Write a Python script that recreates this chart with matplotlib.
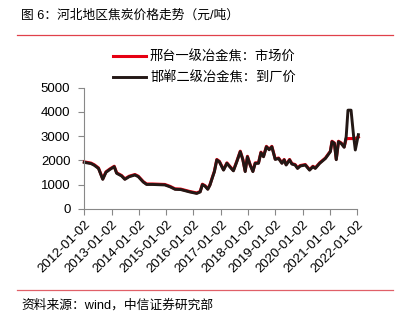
import matplotlib
matplotlib.use("Agg")
import matplotlib.pyplot as plt
import pandas as pd

FONTS = ['Liberation Sans', 'Noto Sans CJK SC', 'DejaVu Sans']
plt.rcParams['font.family'] = FONTS

title = "图 6：河北地区焦炭价格走势（元/吨）"
source = "资料来源：wind，中信证券研究部"
names = ["邢台一级冶金焦：市场价", "邯郸二级冶金焦：到厂价"]

dates = ["2012-01-02", "2012-04-01", "2012-05-15", "2012-07-10", "2012-09-05",
         "2012-10-18", "2012-12-10", "2013-02-06", "2013-03-10", "2013-05-15",
         "2013-06-28", "2013-08-25", "2013-11-10", "2013-12-25", "2014-03-01",
         "2014-04-15", "2014-07-01", "2014-12-15", "2015-02-25", "2015-05-01",
         "2015-07-15", "2015-11-15", "2016-02-15", "2016-04-01", "2016-05-01",
         "2016-06-05", "2016-07-12", "2016-08-10", "2016-09-15", "2016-10-08",
         "2016-11-10", "2016-12-15", "2017-02-08", "2017-03-25", "2017-05-08",
         "2017-06-20", "2017-08-05", "2017-09-20", "2017-10-25", "2017-11-25",
         "2017-12-25", "2018-01-30", "2018-03-08", "2018-04-08", "2018-05-22",
         "2018-06-24", "2018-07-28", "2018-09-05", "2018-10-12", "2018-11-17",
         "2019-01-01", "2019-02-15", "2019-04-01", "2019-05-01", "2019-05-27",
         "2019-07-12", "2019-08-12", "2019-09-25", "2019-10-27", "2019-12-02",
         "2020-02-08", "2020-04-05", "2020-05-20", "2020-06-20", "2020-08-18",
         "2020-11-03", "2021-01-08", "2021-01-30", "2021-03-03", "2021-03-28",
         "2021-04-27", "2021-06-02", "2021-07-12", "2021-08-08", "2021-09-01",
         "2021-10-12", "2021-11-16", "2021-12-08", "2022-01-18"]

# 邢台一级冶金焦 市场价
xingtai = [1940, 1890, 1820, 1690, 1240, 1530, 1650, 1760, 1490, 1380,
           1240, 1350, 1420, 1350, 1130, 1030, 1030, 1010, 930, 830,
           820, 720, 660, 720, 1020, 960, 830, 1000, 1340, 1550,
           2040, 1960, 1620, 1900, 1740, 1590, 1970, 2380, 2040, 1560,
           2170, 1830, 1560, 1900, 1900, 2340, 2170, 2580, 2460, 2580,
           2060, 2100, 1900, 2040, 1830, 2040, 1870, 1830, 1690, 1790,
           1830, 1620, 1760, 1690, 1900, 2100, 2380, 2790, 2720, 2050,
           2790, 2720, 2560, 2900, 2900, 2900, 2900, 2900, 2960]

# 邯郸二级冶金焦 到厂价
handan = [1920, 1870, 1800, 1670, 1220, 1510, 1630, 1740, 1470, 1360,
          1220, 1330, 1400, 1330, 1110, 1010, 1010, 990, 910, 810,
          800, 700, 640, 700, 1000, 940, 810, 980, 1320, 1530,
          2020, 1940, 1600, 1880, 1720, 1570, 1950, 2360, 2020, 1540,
          2150, 1810, 1540, 1880, 1880, 2320, 2150, 2560, 2440, 2560,
          2040, 2080, 1880, 2020, 1810, 2020, 1850, 1810, 1670, 1770,
          1810, 1600, 1740, 1670, 1880, 2080, 2360, 2770, 2700, 2030,
          2770, 2700, 2540, 2980, 4070, 4070, 2980, 2430, 3060]

ticks = ["2012-01-02", "2013-01-02", "2014-01-02", "2015-01-02", "2016-01-02",
         "2017-01-02", "2018-01-02", "2019-01-02", "2020-01-02", "2021-01-02",
         "2022-01-02"]

x = pd.to_datetime(dates)
tx = pd.to_datetime(ticks)

fig = plt.figure(figsize=(4.08, 3.22), dpi=100)
ax = fig.add_axes([0.2066, 0.351, 0.669, 0.377])

ax.plot(x, xingtai, color='#e60012', lw=2.2, solid_joinstyle='round',
        clip_on=False, label=names[0])
ax.plot(x, handan, color='#231815', lw=2.1, solid_joinstyle='round',
        clip_on=False, label=names[1])

ax.set_ylim(0, 5000)
ax.set_yticks([0, 1000, 2000, 3000, 4000, 5000])
ax.set_xlim(tx[0], pd.Timestamp("2022-01-03"))
ax.set_xticks(tx)
ax.set_xticklabels(ticks, rotation=45, ha='right', va='top', rotation_mode='anchor')
ax.tick_params(axis='both', labelsize=9.5, colors='#000000', length=4, width=0.8)
ax.tick_params(axis='x', color='#888888', pad=3)
ax.tick_params(axis='y', color='#888888', pad=6)

for s in ['top', 'right']:
    ax.spines[s].set_visible(False)
for s in ['left', 'bottom']:
    ax.spines[s].set_color('#888888')
    ax.spines[s].set_linewidth(0.8)

fig.legend(loc='upper left', bbox_to_anchor=(0.277, 0.843), frameon=False,
           fontsize=9.5, handlelength=2.5, handletextpad=0.3, labelspacing=0.55,
           borderaxespad=0, borderpad=0)

# title and source with red rules
fig.text(0.052, 0.952, title, fontsize=9.2, va='center', ha='left')
fig.add_artist(plt.Line2D([0.042, 0.963], [0.891, 0.891], color='#e0404a', lw=0.9))
fig.add_artist(plt.Line2D([0.042, 0.963], [0.099, 0.099], color='#e06068', lw=0.9))
fig.text(0.052, 0.052, source, fontsize=9.2, va='center', ha='left')

fig.savefig("out.png", dpi=100)
